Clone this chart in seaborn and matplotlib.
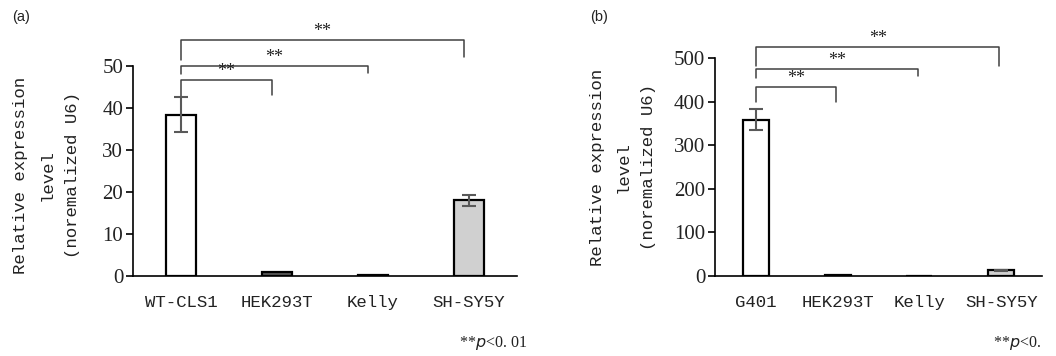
import matplotlib
matplotlib.use("Agg")
import matplotlib.pyplot as plt
import seaborn as sns
import numpy as np
import pandas as pd

sns.set_theme(style="white")
plt.rcParams['font.family'] = ['Liberation Serif', 'DejaVu Serif']

# Panel (a)
cats_a = ["WT-CLS1", "HEK293T", "Kelly", "SH-SY5Y"]
vals_a = [38.4, 0.9, 0.2, 18.0]
errs_a = [4.2, 0.0, 0.0, 1.3]
colors_a = ["#ffffff", "#595959", "#262626", "#d0d0d0"]
yticks_a = [0, 10, 20, 30, 40, 50]
# brackets: (left idx, right idx, bar height, left foot, right foot)
brk_a = [(0, 1, 46.7, 42.6, 43.2), (0, 2, 50.1, 48.2, 48.4), (0, 3, 56.3, 51.4, 52.1)]

# Panel (b)
cats_b = ["G401", "HEK293T", "Kelly", "SH-SY5Y"]
vals_b = [358, 2, 0.5, 13]
errs_b = [24, 0, 0, 1.5]
colors_b = ["#ffffff", "#1a1a1a", "#808080", "#d0d0d0"]
yticks_b = [0, 100, 200, 300, 400, 500]
brk_b = [(0, 1, 433, 400, 400), (0, 2, 475, 455, 459), (0, 3, 525, 482, 482)]

ylabel = "Relative expression\nlevel\n(noremalized U6)"
mono = 'Liberation Mono'

fig = plt.figure(figsize=(10.56, 3.56), dpi=100)
ax_a = fig.add_axes([133/1056, 1-276/356, 384/1056, 210/356])
ax_b = fig.add_axes([715/1056, 1-276/356, 327/1056, 218/356])


def draw(ax, cats, vals, errs, colors, yticks, brk, end_off, ymax, lab_xy):
    df = pd.DataFrame({"cat": cats, "val": vals})
    sns.barplot(data=df, x="cat", y="val", hue="cat", palette=colors,
                legend=False, width=0.32, edgecolor="black", linewidth=1.6,
                ax=ax, errorbar=None)
    pos = np.arange(len(cats))
    mask = np.array(errs) > 0
    ax.errorbar(pos[mask], np.array(vals)[mask], yerr=np.array(errs)[mask],
                fmt="none", ecolor="#595959", elinewidth=1.5, capsize=5,
                capthick=1.5, zorder=5)
    ax.set_xlim(-0.5, 3.5)
    ax.set_ylim(0, ymax)
    ax.set_yticks(yticks)
    ax.set_xlabel("")
    ax.set_ylabel(ylabel, family=mono, fontsize=12.5, linespacing=1.9,
                  color="#222222")
    ax.yaxis.set_label_coords(*lab_xy)
    for sp in ["top", "right"]:
        ax.spines[sp].set_visible(False)
    ax.spines["left"].set_color("black")
    ax.spines["bottom"].set_color("black")
    ax.spines["left"].set_linewidth(1.2)
    ax.spines["bottom"].set_linewidth(1.2)
    ax.tick_params(axis="y", direction="out", length=5, width=1.2, left=True,
                   labelsize=15, colors="black", labelcolor="#222222", pad=2)
    ax.tick_params(axis="x", length=0, pad=14, labelsize=12.5,
                   labelcolor="#222222")
    for t in ax.get_xticklabels():
        t.set_family(mono)
    for (i, j, h, lf, rf) in brk:
        ax.plot([i, i, j + end_off, j + end_off], [lf, h, h, rf],
                color="#404040", lw=1.1, clip_on=False)
        ax.text((i + j + end_off) / 2, h, "**", ha="center", va="bottom",
                fontsize=13, color="#222222")


draw(ax_a, cats_a, vals_a, errs_a, colors_a, yticks_a, brk_a, -0.05, 50,
     (-0.138, 0.48))
draw(ax_b, cats_b, vals_b, errs_b, colors_b, yticks_b, brk_b, -0.02, 500,
     (-0.18, 0.50))

fig.text(12/1056, 1-17/356, "(a)", fontsize=10.5, family="Liberation Sans",
         va="center", color="#222222")
fig.text(590/1056, 1-17/356, "(b)", fontsize=10.5, family="Liberation Sans",
         va="center", color="#222222")
fig.text(459/1056, 1-343/356, "**$\\it{p}$<0. 01", fontsize=11.5, va="center",
         color="#222222")
fig.text(993/1056, 1-343/356, "**$\\it{p}$<0.", fontsize=11.5, va="center",
         color="#222222")

fig.savefig("out.png", dpi=100)
